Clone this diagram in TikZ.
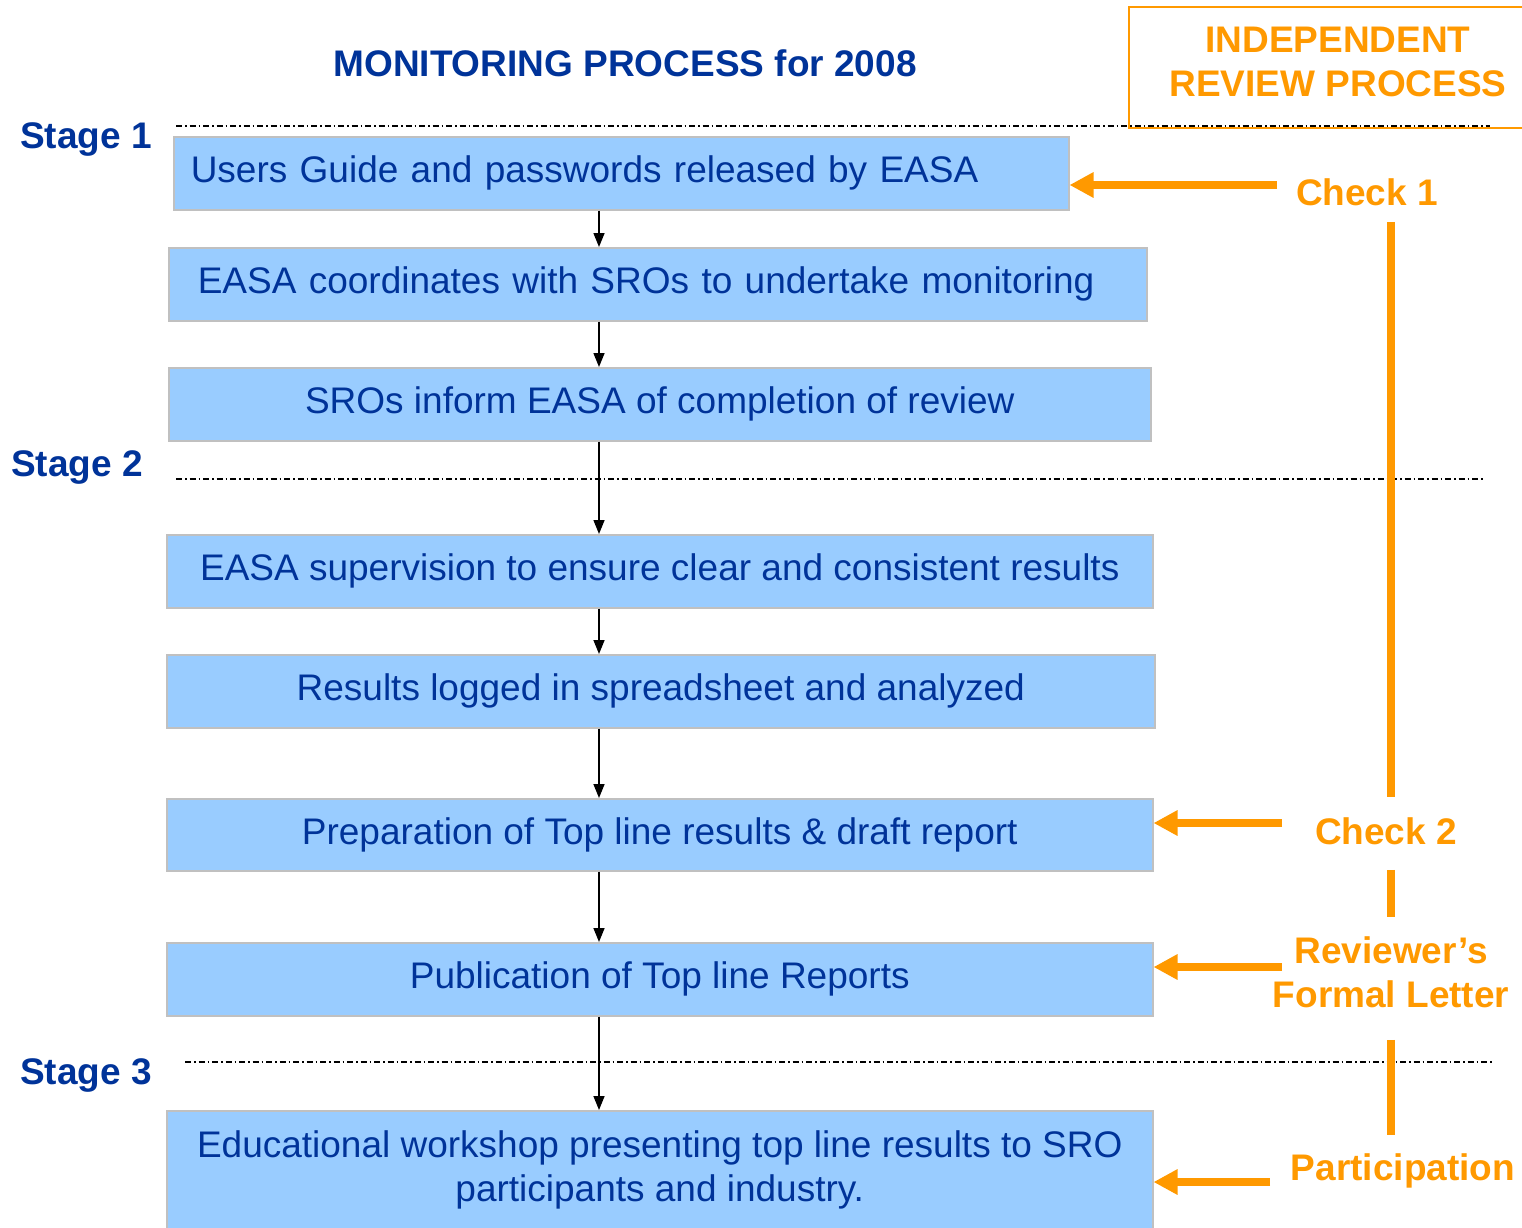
\documentclass[tikz,border=0pt]{standalone}
\usepackage{fontspec}
\setmainfont{Liberation Sans}
\usetikzlibrary{arrows.meta}
\definecolor{easablue}{HTML}{003399}
\definecolor{boxblue}{HTML}{99CCFF}
\definecolor{boxgray}{HTML}{C0C0C0}
\definecolor{revorange}{HTML}{FF9900}
\newcommand\procfont{\fontsize{37pt}{44pt}\selectfont}
\newcommand\headfont{\fontsize{37pt}{44pt}\selectfont\bfseries}
\begin{document}
\begin{tikzpicture}[x=1pt, y=-1pt,
    procbox/.style={draw=boxgray, line width=1.5pt, fill=boxblue, text=easablue,
      font=\procfont, minimum height=73pt, inner sep=0pt, anchor=north west, align=center},
    stagetext/.style={text=easablue, font=\headfont, inner sep=0pt, anchor=west},
    revtext/.style={text=revorange, font=\headfont, inner sep=0pt, align=center},
    flowarrow/.style={->, >={Triangle[length=14pt, width=11pt]}, line width=1.5pt},
    revarrow/.style={->, >={Triangle[length=24pt, width=24pt]}, line width=8pt, draw=revorange},
    revline/.style={line width=8pt, draw=revorange},
    stageline/.style={line width=1.5pt, dash pattern=on 6pt off 3pt on 1.5pt off 3pt}]
      \useasboundingbox (0,0) rectangle (1522,1227);
      \def \flowx {599}
      \def \spine {1391}
      % monitoring process boxes
      \node[procbox, text width=861pt, align=left, inner xsep=17pt] (users) at (173,136) {Users Guide and passwords released by EASA};
      \node[procbox, text width=920pt, align=left, inner xsep=29pt] (coord) at (168,247) {EASA coordinates with SROs to undertake monitoring};
      \node[procbox, minimum width=982pt] (inform) at (168,367) {SROs inform EASA of completion of review};
      \node[procbox, minimum width=986pt] (superv) at (166,534) {EASA supervision to ensure clear and consistent results};
      \node[procbox, minimum width=988pt] (logged) at (166,654) {Results logged in spreadsheet and analyzed};
      \node[procbox, minimum width=986pt, minimum height=72pt] (prep) at (166,798) {Preparation of Top line results \& draft report};
      \node[procbox, minimum width=986pt] (publ) at (166,942) {Publication of Top line Reports};
      \node[procbox, minimum width=986pt, minimum height=118pt] (work) at (166,1110) {Educational workshop presenting top line results to SRO\\participants and industry.};
      \foreach \a/\b in {users/coord, coord/inform, inform/superv, superv/logged, logged/prep, prep/publ, publ/work}
      {
        \draw[flowarrow] (\a.south -| \flowx,0) -- (\b.north -| \flowx,0);
      }
      % headings and stages
      \node[text=easablue, font=\headfont, inner sep=0pt] (title) at (625,63) {MONITORING PROCESS for 2008};
      \node[stagetext] (stage1) at (20,139) {Stage 1};
      \node[stagetext] (stage2) at (11,467) {Stage 2};
      \node[stagetext] (stage3) at (20,1075) {Stage 3};
      \foreach \y/\xa/\xb in {126/176/1490, 479/176/1484, 1062/185/1492}
      {
        \draw[stageline] (\xa,\y) -- (\xb,\y);
      }
      % independent review process
      \node[draw=revorange, line width=2pt, text=revorange, font=\headfont, align=center, text depth=12pt,
        minimum width=418pt, minimum height=121pt, inner sep=0pt, anchor=north west] (indep) at (1128,6) {INDEPENDENT\\REVIEW PROCESS};
      \node[revtext] (chk1) at (1367,192) {Check 1};
      \node[revtext] (chk2) at (1386,831) {Check 2};
      \node[revtext] (letter) at (1391,972) {Reviewer’s\\Formal Letter};
      \node[revtext] (part) at (1403,1171) {Participation};
      \draw[revline, shorten <=16pt, shorten >=20pt] (chk1.south -| \spine,0) -- (chk2.north -| \spine,0);
      \draw[revline, shorten <=25pt, shorten >=19pt] (chk2.south -| \spine,0) -- (letter.north -| \spine,0);
      \draw[revline, shorten <=32pt, shorten >=19pt] (letter.south -| \spine,0) -- (part.north -| \spine,0);
      \coordinate (chk1from) at (1277,185);
      \coordinate (chk2from) at (1282,823);
      \coordinate (letterfrom) at (1282,967);
      \coordinate (partfrom) at (1270,1182);
      \draw[revarrow] (chk1from) -- (users.east |- chk1from);
      \draw[revarrow] (chk2from) -- (prep.east |- chk2from);
      \draw[revarrow] (letterfrom) -- (publ.east |- letterfrom);
      \draw[revarrow] (partfrom) -- (work.east |- partfrom);
    \end{tikzpicture}
\end{document}
